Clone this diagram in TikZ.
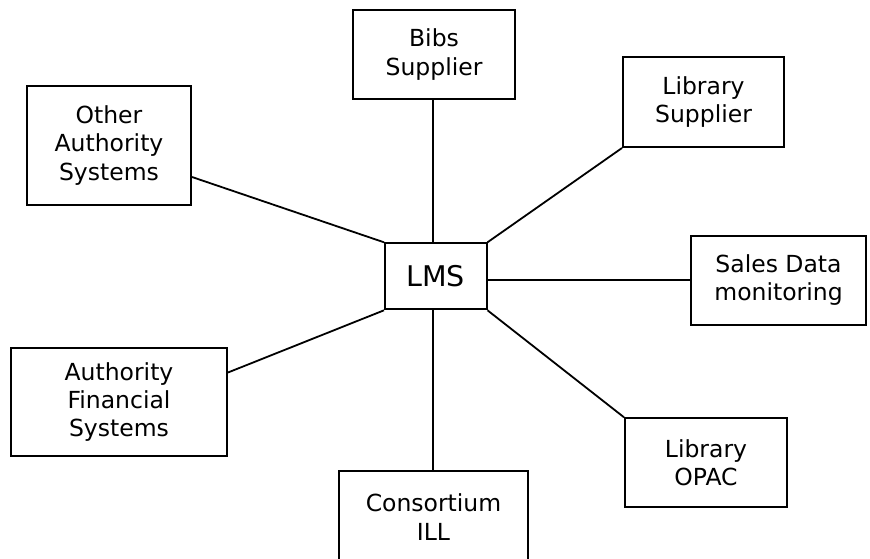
\documentclass[tikz,border=0pt]{standalone}
\usepackage{fontspec}
\setmainfont{DejaVu Sans}
\begin{document}
\begin{tikzpicture}[x=1pt,y=-1pt,
  sysbox/.style={draw=black,line width=2pt,fill=white,align=center,inner sep=0pt,
    font=\fontsize{23.5}{28.3}\selectfont},
  link/.style={draw=black,line width=1.8pt}]
\useasboundingbox (0,0) rectangle (870,559);
\fill[white] (0,0) rectangle (870,559);
\node[sysbox,minimum width=162pt,minimum height=89pt] (bibs) at (434,54.5) {Bibs\\Supplier};
\node[sysbox,minimum width=161pt,minimum height=89.5pt] (libsup) at (703.5,102.25) {Library\\Supplier};
\node[sysbox,minimum width=164pt,minimum height=119pt] (other) at (109,145.5) {Other\\Authority\\Systems};
\node[sysbox,minimum width=101.5pt,minimum height=66pt,font=\fontsize{28.5}{32}\selectfont] (lms) at (435.75,276.3) {LMS};
\node[sysbox,minimum width=175pt,minimum height=89pt] (sales) at (778.5,280.35) {Sales Data\\monitoring};
\node[sysbox,minimum width=216pt,minimum height=107.4pt] (authfin) at (119,402) {Authority\\Financial\\Systems};
\node[sysbox,minimum width=162pt,minimum height=89pt] (opac) at (706,462.8) {Library\\OPAC};
\node[sysbox,minimum width=189pt,minimum height=92pt] (cons) at (433.5,517) {Consortium\\ILL};
\coordinate (oa) at ([yshift=-31.5pt]other.east);
\coordinate (af) at ([yshift=29.5pt]authfin.east);
\draw[link] ([xshift=-1.3pt]bibs.south) -- ([xshift=-1.3pt]bibs.south |- lms.north);
\draw[link] (libsup.south west) -- (lms.north east);
\draw[link] (oa) -- (lms.north west);
\draw[link] (sales.west) -- (sales.west -| lms.east);
\draw[link] (af) -- (lms.south west);
\draw[link] (opac.north west) -- (lms.south east);
\draw[link] ([xshift=-0.8pt]cons.north) -- ([xshift=-0.8pt]cons.north |- lms.south);
\end{tikzpicture}
\end{document}
